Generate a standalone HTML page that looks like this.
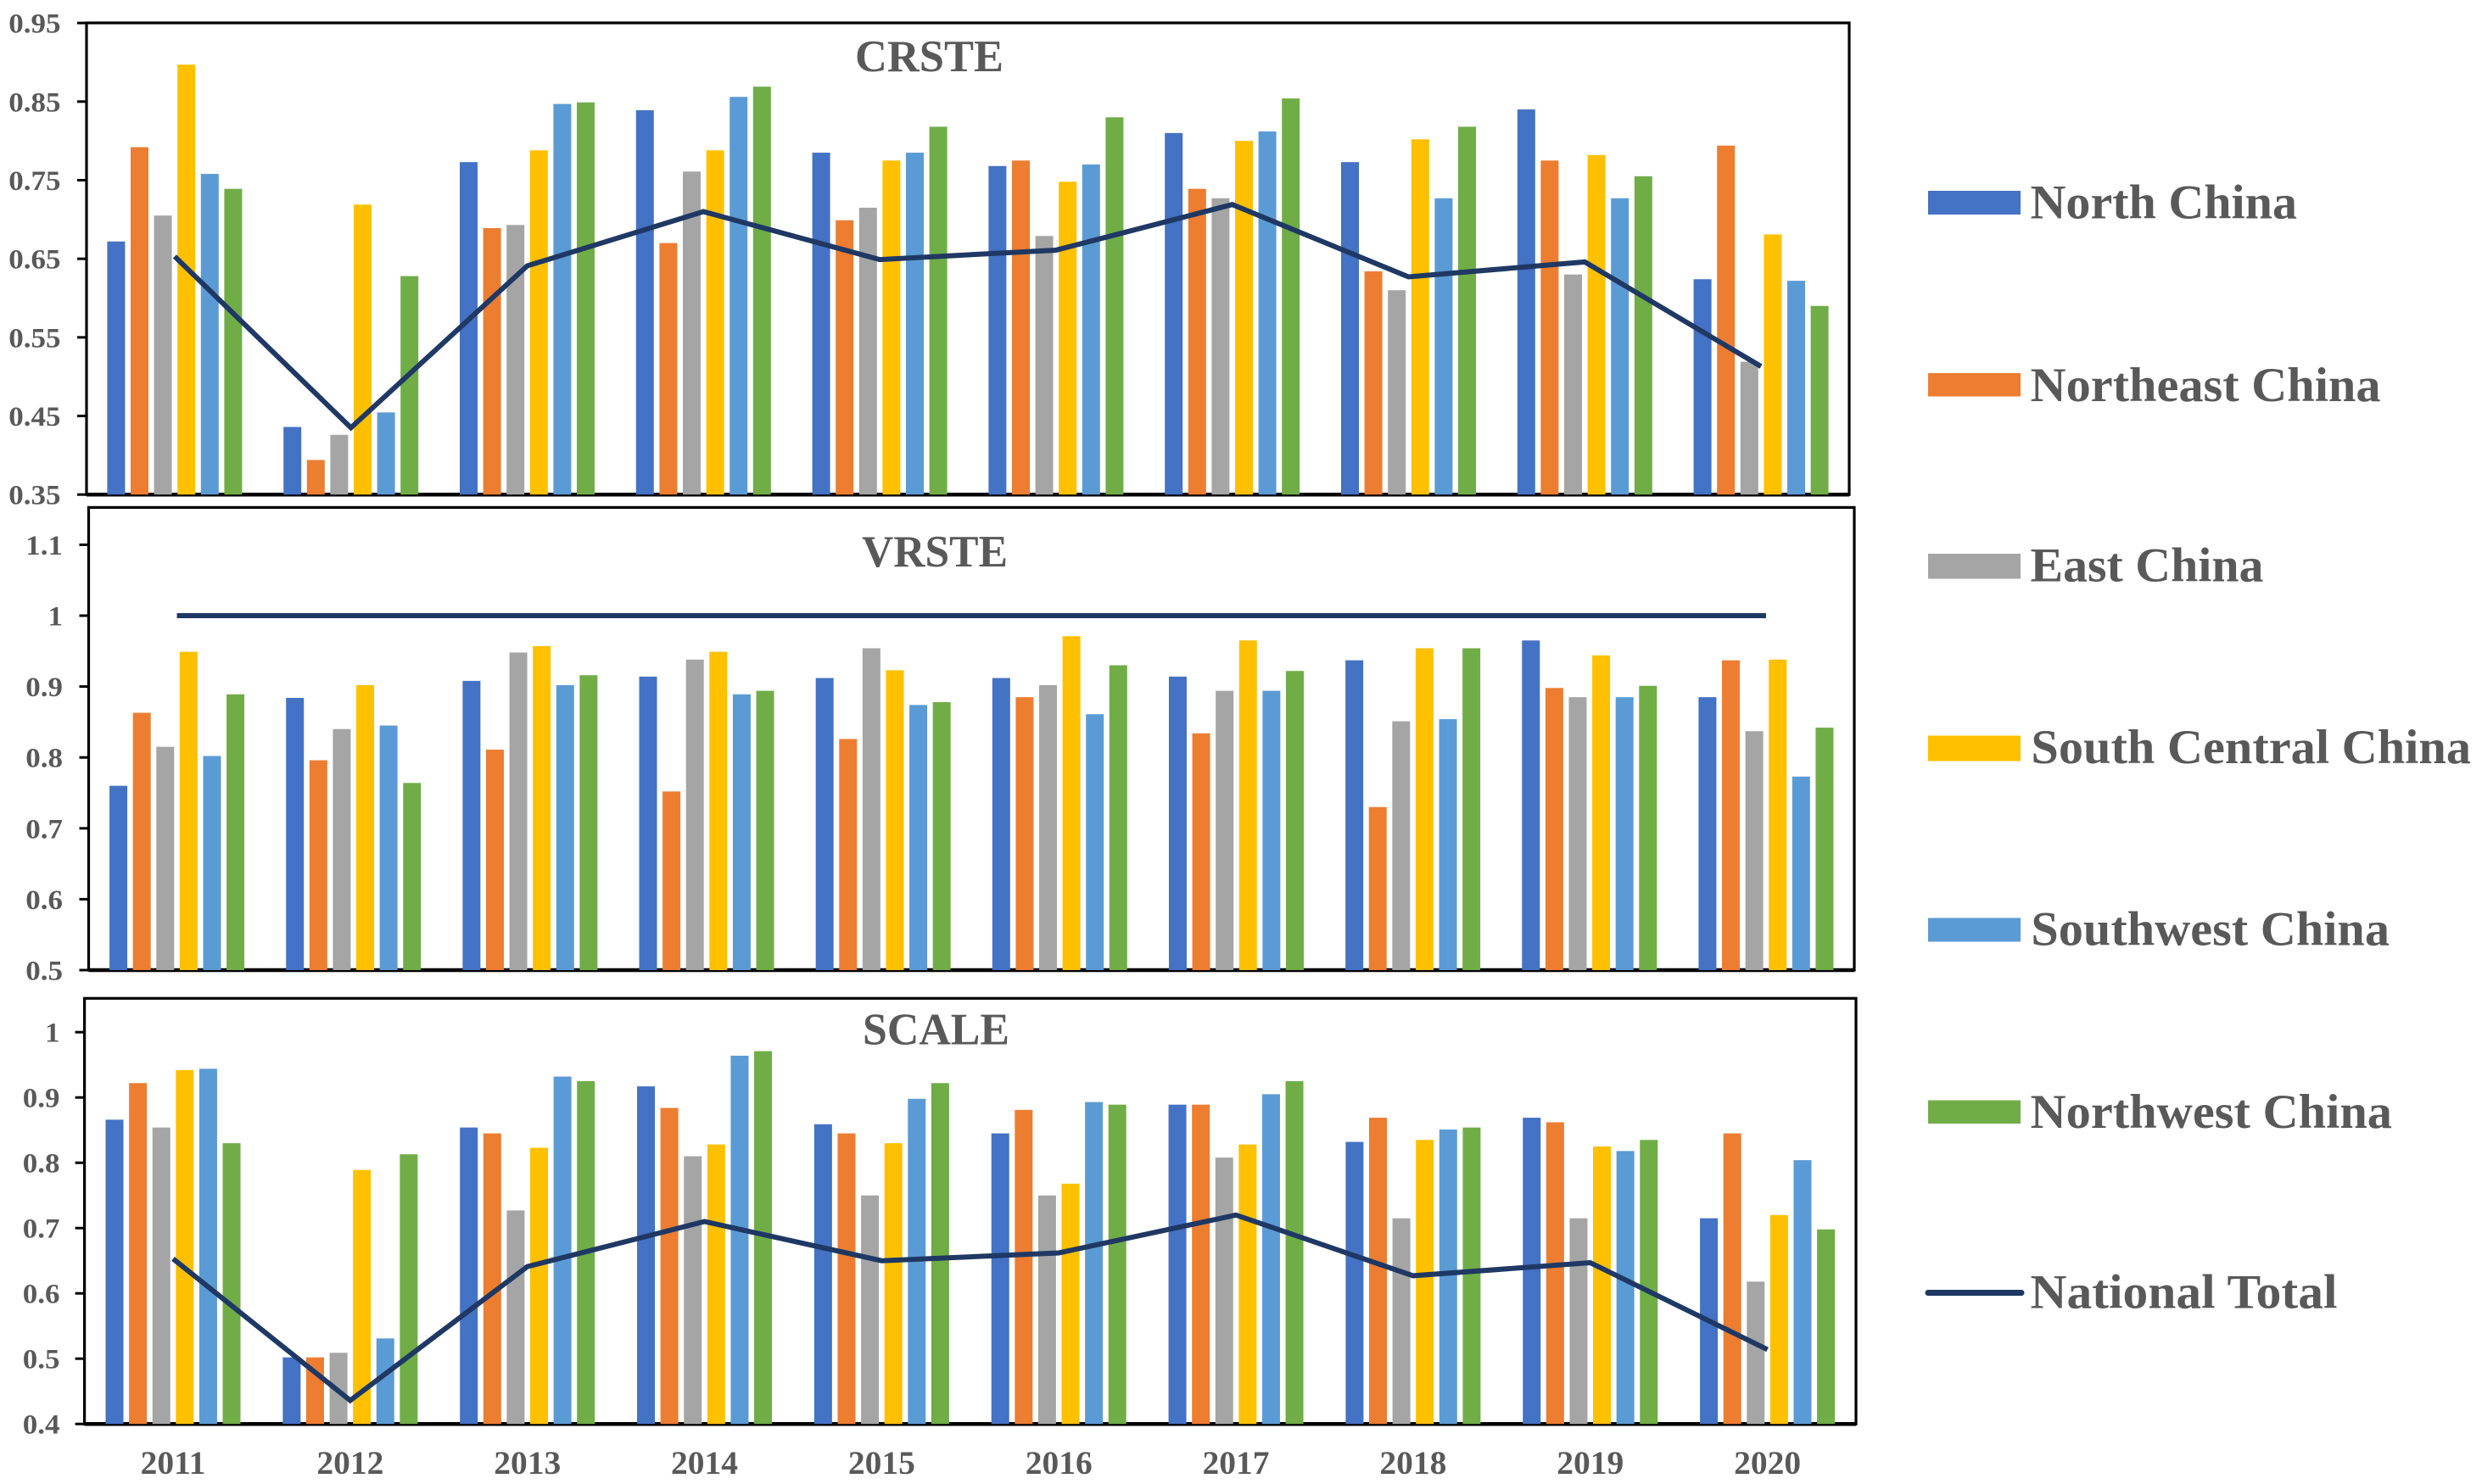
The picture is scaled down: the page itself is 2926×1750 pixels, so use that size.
<!DOCTYPE html>
<html lang="en">
<head>
<meta charset="utf-8">
<title>CRSTE, VRSTE and SCALE by region, 2011-2020</title>
<style>
  html, body { margin: 0; padding: 0; background: #fff; }
  svg { display: block; }
  text { font-family: "Liberation Serif", serif; font-weight: bold; fill: #595959; }
</style>
</head>
<body>
<svg id="chart" xmlns="http://www.w3.org/2000/svg" width="2926" height="1750" viewBox="0 0 2926 1750">
  <rect x="0" y="0" width="2926" height="1750" fill="#ffffff"/>
  <g id="panels"></g>
  <g>
    <g>
      <rect x="2273" y="225" width="109" height="28" fill="#4472C4"/>
      <text x="2393.5" y="257.5" font-size="57" textLength="314.5" lengthAdjust="spacingAndGlyphs">North China</text>
    </g>
    <g>
      <rect x="2273" y="440" width="109" height="27.5" fill="#ED7D31"/>
      <text x="2393.5" y="472.8" font-size="57" textLength="413" lengthAdjust="spacingAndGlyphs">Northeast China</text>
    </g>
    <g>
      <rect x="2273" y="653" width="109" height="29.5" fill="#A5A5A5"/>
      <text x="2393.5" y="685.6" font-size="57" textLength="275" lengthAdjust="spacingAndGlyphs">East China</text>
    </g>
    <g>
      <rect x="2273" y="867.5" width="109" height="30" fill="#FFC000"/>
      <text x="2394.4" y="900" font-size="57" textLength="518.6" lengthAdjust="spacingAndGlyphs">South Central China</text>
    </g>
    <g>
      <rect x="2273" y="1082.5" width="109" height="28" fill="#5B9BD5"/>
      <text x="2394.4" y="1114.7" font-size="57" textLength="422.6" lengthAdjust="spacingAndGlyphs">Southwest China</text>
    </g>
    <g>
      <rect x="2273" y="1297.5" width="109" height="27.5" fill="#70AD47"/>
      <text x="2393.5" y="1330" font-size="57" textLength="426.5" lengthAdjust="spacingAndGlyphs">Northwest China</text>
    </g>
    <g>
      <line x1="2273" y1="1524.5" x2="2383" y2="1524.5" stroke="#1F3864" stroke-width="7" stroke-linecap="round"/>
      <text x="2393.5" y="1542.7" font-size="57" textLength="362" lengthAdjust="spacingAndGlyphs">National Total</text>
    </g>
  </g>
</svg>
<script>
const years = ['2011', '2012', '2013', '2014', '2015', '2016', '2017', '2018', '2019', '2020'];
const seriesNames = ['north-china', 'northeast-china', 'east-china', 'south-central-china', 'southwest-china', 'northwest-china'];
const seriesColors = ['#4472C4', '#ED7D31', '#A5A5A5', '#FFC000', '#5B9BD5', '#70AD47'];

const crsteTicks = ['0.95', '0.85', '0.75', '0.65', '0.55', '0.45', '0.35'];
const crsteNorth = [0.672, 0.436, 0.773, 0.839, 0.785, 0.768, 0.810, 0.773, 0.840, 0.624];
const crsteNortheast = [0.792, 0.394, 0.689, 0.670, 0.699, 0.775, 0.739, 0.634, 0.775, 0.794];
const crsteEast = [0.705, 0.426, 0.693, 0.761, 0.715, 0.679, 0.727, 0.610, 0.630, 0.519];
const crsteSouthCentral = [0.897, 0.719, 0.788, 0.788, 0.775, 0.748, 0.800, 0.802, 0.782, 0.681];
const crsteSouthwest = [0.758, 0.4545, 0.847, 0.856, 0.785, 0.770, 0.812, 0.727, 0.727, 0.622];
const crsteNorthwest = [0.739, 0.628, 0.849, 0.869, 0.818, 0.830, 0.854, 0.818, 0.755, 0.590];
const crsteNational = [0.653, 0.435, 0.641, 0.710, 0.649, 0.661, 0.719, 0.627, 0.646, 0.513];

const vrsteTicks = ['1.1', '1', '0.9', '0.8', '0.7', '0.6', '0.5'];
const vrsteNorth = [0.760, 0.884, 0.908, 0.914, 0.912, 0.912, 0.914, 0.937, 0.965, 0.885];
const vrsteNortheast = [0.863, 0.796, 0.811, 0.752, 0.826, 0.885, 0.834, 0.730, 0.898, 0.937];
const vrsteEast = [0.815, 0.840, 0.948, 0.938, 0.954, 0.902, 0.894, 0.851, 0.885, 0.837];
const vrsteSouthCentral = [0.949, 0.902, 0.957, 0.949, 0.923, 0.971, 0.965, 0.954, 0.944, 0.938];
const vrsteSouthwest = [0.802, 0.845, 0.902, 0.889, 0.874, 0.861, 0.894, 0.854, 0.885, 0.773];
const vrsteNorthwest = [0.889, 0.764, 0.916, 0.894, 0.878, 0.930, 0.922, 0.954, 0.901, 0.842];
const vrsteNational = [1, 1, 1, 1, 1, 1, 1, 1, 1, 1];

const scaleTicks = ['1', '0.9', '0.8', '0.7', '0.6', '0.5', '0.4'];
const scaleNorth = [0.866, 0.502, 0.854, 0.917, 0.859, 0.845, 0.889, 0.832, 0.869, 0.715];
const scaleNortheast = [0.922, 0.502, 0.845, 0.884, 0.845, 0.881, 0.889, 0.869, 0.862, 0.845];
const scaleEast = [0.854, 0.509, 0.727, 0.810, 0.750, 0.750, 0.808, 0.715, 0.715, 0.618];
const scaleSouthCentral = [0.942, 0.789, 0.823, 0.828, 0.830, 0.768, 0.828, 0.835, 0.825, 0.720];
const scaleSouthwest = [0.944, 0.531, 0.932, 0.964, 0.898, 0.893, 0.905, 0.851, 0.818, 0.804];
const scaleNorthwest = [0.830, 0.813, 0.925, 0.971, 0.922, 0.889, 0.925, 0.854, 0.835, 0.698];
const scaleNational = [0.653, 0.436, 0.641, 0.710, 0.650, 0.662, 0.720, 0.627, 0.647, 0.514];

const SVG_NS = 'http://www.w3.org/2000/svg';
const root = document.getElementById('panels');

function make(tag, attrs, parent) {
  const el = document.createElementNS(SVG_NS, tag);
  for (const k in attrs) el.setAttribute(k, attrs[k]);
  parent.appendChild(el);
  return el;
}

function drawPanel(p) {
  const g = make('g', {}, root);
  
  

  const yScale = v => p.bottom - (v - p.domainMin) * p.pxPerUnit;
  const band = (p.right - p.left) / years.length;
  const xScale = i => p.left + band * (i + 0.5);

  const frame = make('rect', {
    x: p.left, y: p.top, width: p.right - p.left, height: p.bottom - p.top,
    fill: '#ffffff', stroke: '#000000', 'stroke-width': 3.2
  }, g);
  
  

  const baseAxis = make('line', {
    x1: p.left, y1: p.bottom, x2: p.right, y2: p.bottom,
    stroke: '#000000', 'stroke-width': 4.5
  }, g);
  
  

  p.ticks.forEach(label => {
    const y = yScale(parseFloat(label));
    const tick = make('line', {
      x1: p.left - 11, y1: y, x2: p.left, y2: y,
      stroke: '#000000', 'stroke-width': 3
    }, g);
    
    

    const labelWidth = label.length === 1 ? 17.5 : (label.length - 1) * 17.5 + 8.75;
    const text = make('text', {
      x: p.labelRight - labelWidth, y: y + 11.5, 'font-size': 33,
      textLength: labelWidth, lengthAdjust: 'spacingAndGlyphs'
    }, g);
    text.textContent = label;
    
    
  });

  const barWidth = 21;
  const barPitch = 27.6;
  p.series.forEach((values, s) => {
    const group = make('g', { fill: seriesColors[s] }, g);
    
    
    values.forEach((v, i) => {
      const cx = xScale(i) + (s - 2.5) * barPitch;
      const y = yScale(v);
      const bar = make('rect', {
        x: cx - barWidth / 2, y: y, width: barWidth, height: p.bottom - y
      }, group);
      
      
    });
  });

  const points = p.national.map((v, i) => xScale(i) + ',' + yScale(v)).join(' ');
  const line = make('polyline', {
    points: points, fill: 'none', stroke: '#1F3864', 'stroke-width': 6,
    'stroke-linejoin': 'miter'
  }, g);
  
  

  const title = make('text', {
    x: p.titleX, y: p.titleY, 'font-size': 53,
    textLength: p.titleWidth, lengthAdjust: 'spacingAndGlyphs'
  }, g);
  title.textContent = p.title;
  
  

  if (p.showYears) {
    years.forEach((year, i) => {
      const text = make('text', {
        x: xScale(i), y: 1738, 'font-size': 39.5, 'text-anchor': 'middle'
      }, g);
      text.textContent = year;
      
      
    });
  }
}

drawPanel({
  key: 'crste', title: 'CRSTE', titleX: 1008, titleY: 84, titleWidth: 175,
  left: 102, right: 2180, top: 27, bottom: 583.2, domainMin: 0.35, pxPerUnit: 926.8,
  labelRight: 71.5, showYears: false, ticks: crsteTicks, national: crsteNational,
  series: [crsteNorth, crsteNortheast, crsteEast, crsteSouthCentral, crsteSouthwest, crsteNorthwest]
});
drawPanel({
  key: 'vrste', title: 'VRSTE', titleX: 1016, titleY: 668, titleWidth: 172,
  left: 104.5, right: 2186, top: 598.4, bottom: 1144, domainMin: 0.5, pxPerUnit: 836,
  labelRight: 74, showYears: false, ticks: vrsteTicks, national: vrsteNational,
  series: [vrsteNorth, vrsteNortheast, vrsteEast, vrsteSouthCentral, vrsteSouthwest, vrsteNorthwest]
});
drawPanel({
  key: 'scale', title: 'SCALE', titleX: 1017, titleY: 1231.5, titleWidth: 173,
  left: 99.6, right: 2188, top: 1177.3, bottom: 1679.2, domainMin: 0.4, pxPerUnit: 770,
  labelRight: 70.5, showYears: true, ticks: scaleTicks, national: scaleNational,
  series: [scaleNorth, scaleNortheast, scaleEast, scaleSouthCentral, scaleSouthwest, scaleNorthwest]
});
</script>
</body>
</html>
